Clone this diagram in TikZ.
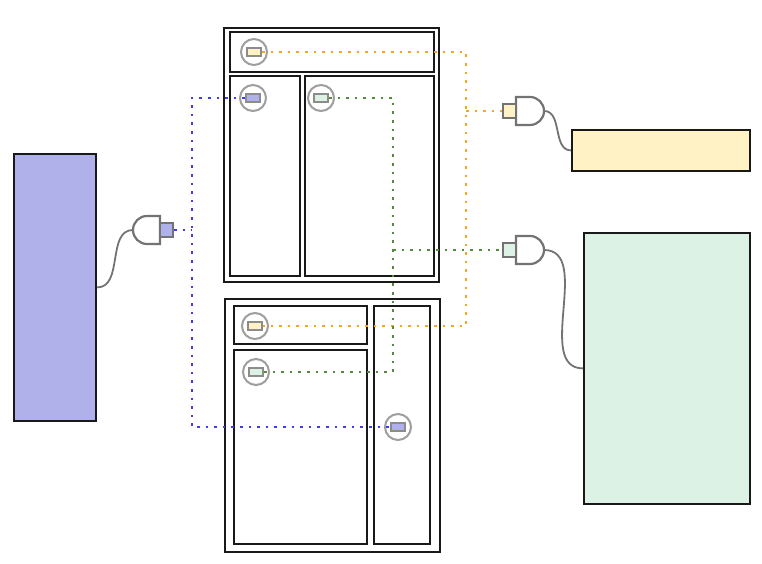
\documentclass[tikz,border=0pt]{standalone}
\usepackage{tikz}

\definecolor{bluefill}{RGB}{176,176,234}
\definecolor{yellowfill}{RGB}{255,242,196}
\definecolor{greenfill}{RGB}{220,242,228}
\definecolor{bluewire}{RGB}{60,60,240}
\definecolor{orangewire}{RGB}{245,166,35}
\definecolor{greenwire}{RGB}{80,140,60}

\begin{document}
\begin{tikzpicture}[x=1pt,y=1pt,
    box/.style={draw=black!90,line width=2.2pt,anchor=south west,inner sep=0pt},
    port/.style={circle,draw=black!38,line width=2pt,minimum size=26pt,inner sep=0pt},
    portpin/.style={draw=black!45,line width=2pt,minimum width=14pt,minimum height=8pt,inner sep=0pt},
    plugpin/.style={draw=black!55,line width=2.2pt,minimum width=13pt,minimum height=14pt,inner sep=0pt},
    plug/.style={draw=black!55,line width=2.2pt,fill=white},
    cable/.style={draw=black!55,line width=1.8pt},
    wire/.style={line width=2.6pt,dash pattern=on 2.6pt off 6pt}]

\useasboundingbox (0,0) rectangle (762,564);

% Devices at the sides
\node[box,fill=bluefill,minimum width=82pt,minimum height=267pt] (devblue) at (13,142) {};
\node[box,fill=yellowfill,minimum width=178pt,minimum height=41pt] (devyellow) at (571,392) {};
\node[box,fill=greenfill,minimum width=166pt,minimum height=271pt] (devgreen) at (583,59) {};

% Upper frame
\node[box,minimum width=215pt,minimum height=254pt] (upper) at (223,281) {};
\node[box,minimum width=204pt,minimum height=40pt] (utop) at (229,491) {};
\node[box,minimum width=70pt,minimum height=200pt] (uleft) at (229,287) {};
\node[box,minimum width=129pt,minimum height=200pt] (uright) at (304,287) {};

% Lower frame
\node[box,minimum width=215pt,minimum height=253pt] (lower) at (224,11) {};
\node[box,minimum width=133pt,minimum height=38pt] (ltop) at (233,219) {};
\node[box,minimum width=133pt,minimum height=194pt] (lleft) at (233,19) {};
\node[box,minimum width=56pt,minimum height=238pt] (lright) at (373,19) {};

% Ports
\node[port] (uy) at (254,512) {};
\node[portpin,fill=yellowfill] (uypin) at (uy) {};
\node[port] (ub) at (253,466) {};
\node[portpin,fill=bluefill] (ubpin) at (ub) {};
\node[port] (ug) at (321,466) {};
\node[portpin,fill=greenfill] (ugpin) at (ug) {};
\node[port] (ly) at (255,238) {};
\node[portpin,fill=yellowfill] (lypin) at (ly) {};
\node[port] (lg) at (256,192) {};
\node[portpin,fill=greenfill] (lgpin) at (lg) {};
\node[port] (lb) at (398,137) {};
\node[portpin,fill=bluefill] (lbpin) at (lb) {};

% Plugs
\draw[plug] (160,348) -- (147,348) arc[start angle=90,end angle=270,radius=14] -- (160,320) -- cycle;
\node[plugpin,fill=bluefill] (bplug) at (166.5,334) {};
\coordinate (btip) at (133,334);

\draw[plug] (516,467) -- (530,467) arc[start angle=90,end angle=-90,radius=14] -- (516,439) -- cycle;
\node[plugpin,fill=yellowfill] (yplug) at (509.5,453) {};
\coordinate (ytip) at (544,453);

\draw[plug] (516,328) -- (530,328) arc[start angle=90,end angle=-90,radius=14] -- (516,300) -- cycle;
\node[plugpin,fill=greenfill] (gplug) at (509.5,314) {};
\coordinate (gtip) at (544,314);

% Cables
\draw[cable] (devblue.east) to[out=0,in=180] (btip);
\draw[cable] (ytip) to[out=0,in=180] (devyellow.west);
\draw[cable] (gtip) to[out=0,in=180] (devgreen.west);

% Wires
\coordinate (bjoin) at (192,334);
\coordinate (yjoin) at (466,453);
\coordinate (gjoin) at (393,314);

\draw[wire,bluewire] (ubpin.west) -| (bjoin) |- (lbpin.west);
\draw[wire,bluewire] (bplug.east) -- (bjoin);
\draw[wire,orangewire] (uypin.east) -| (yjoin) |- (lypin.east);
\draw[wire,orangewire] (yjoin) -- (yplug.west);
\draw[wire,greenwire] (ugpin.east) -| (gjoin) |- (lgpin.east);
\draw[wire,greenwire] (gjoin) -- (gplug.west);

\end{tikzpicture}
\end{document}
